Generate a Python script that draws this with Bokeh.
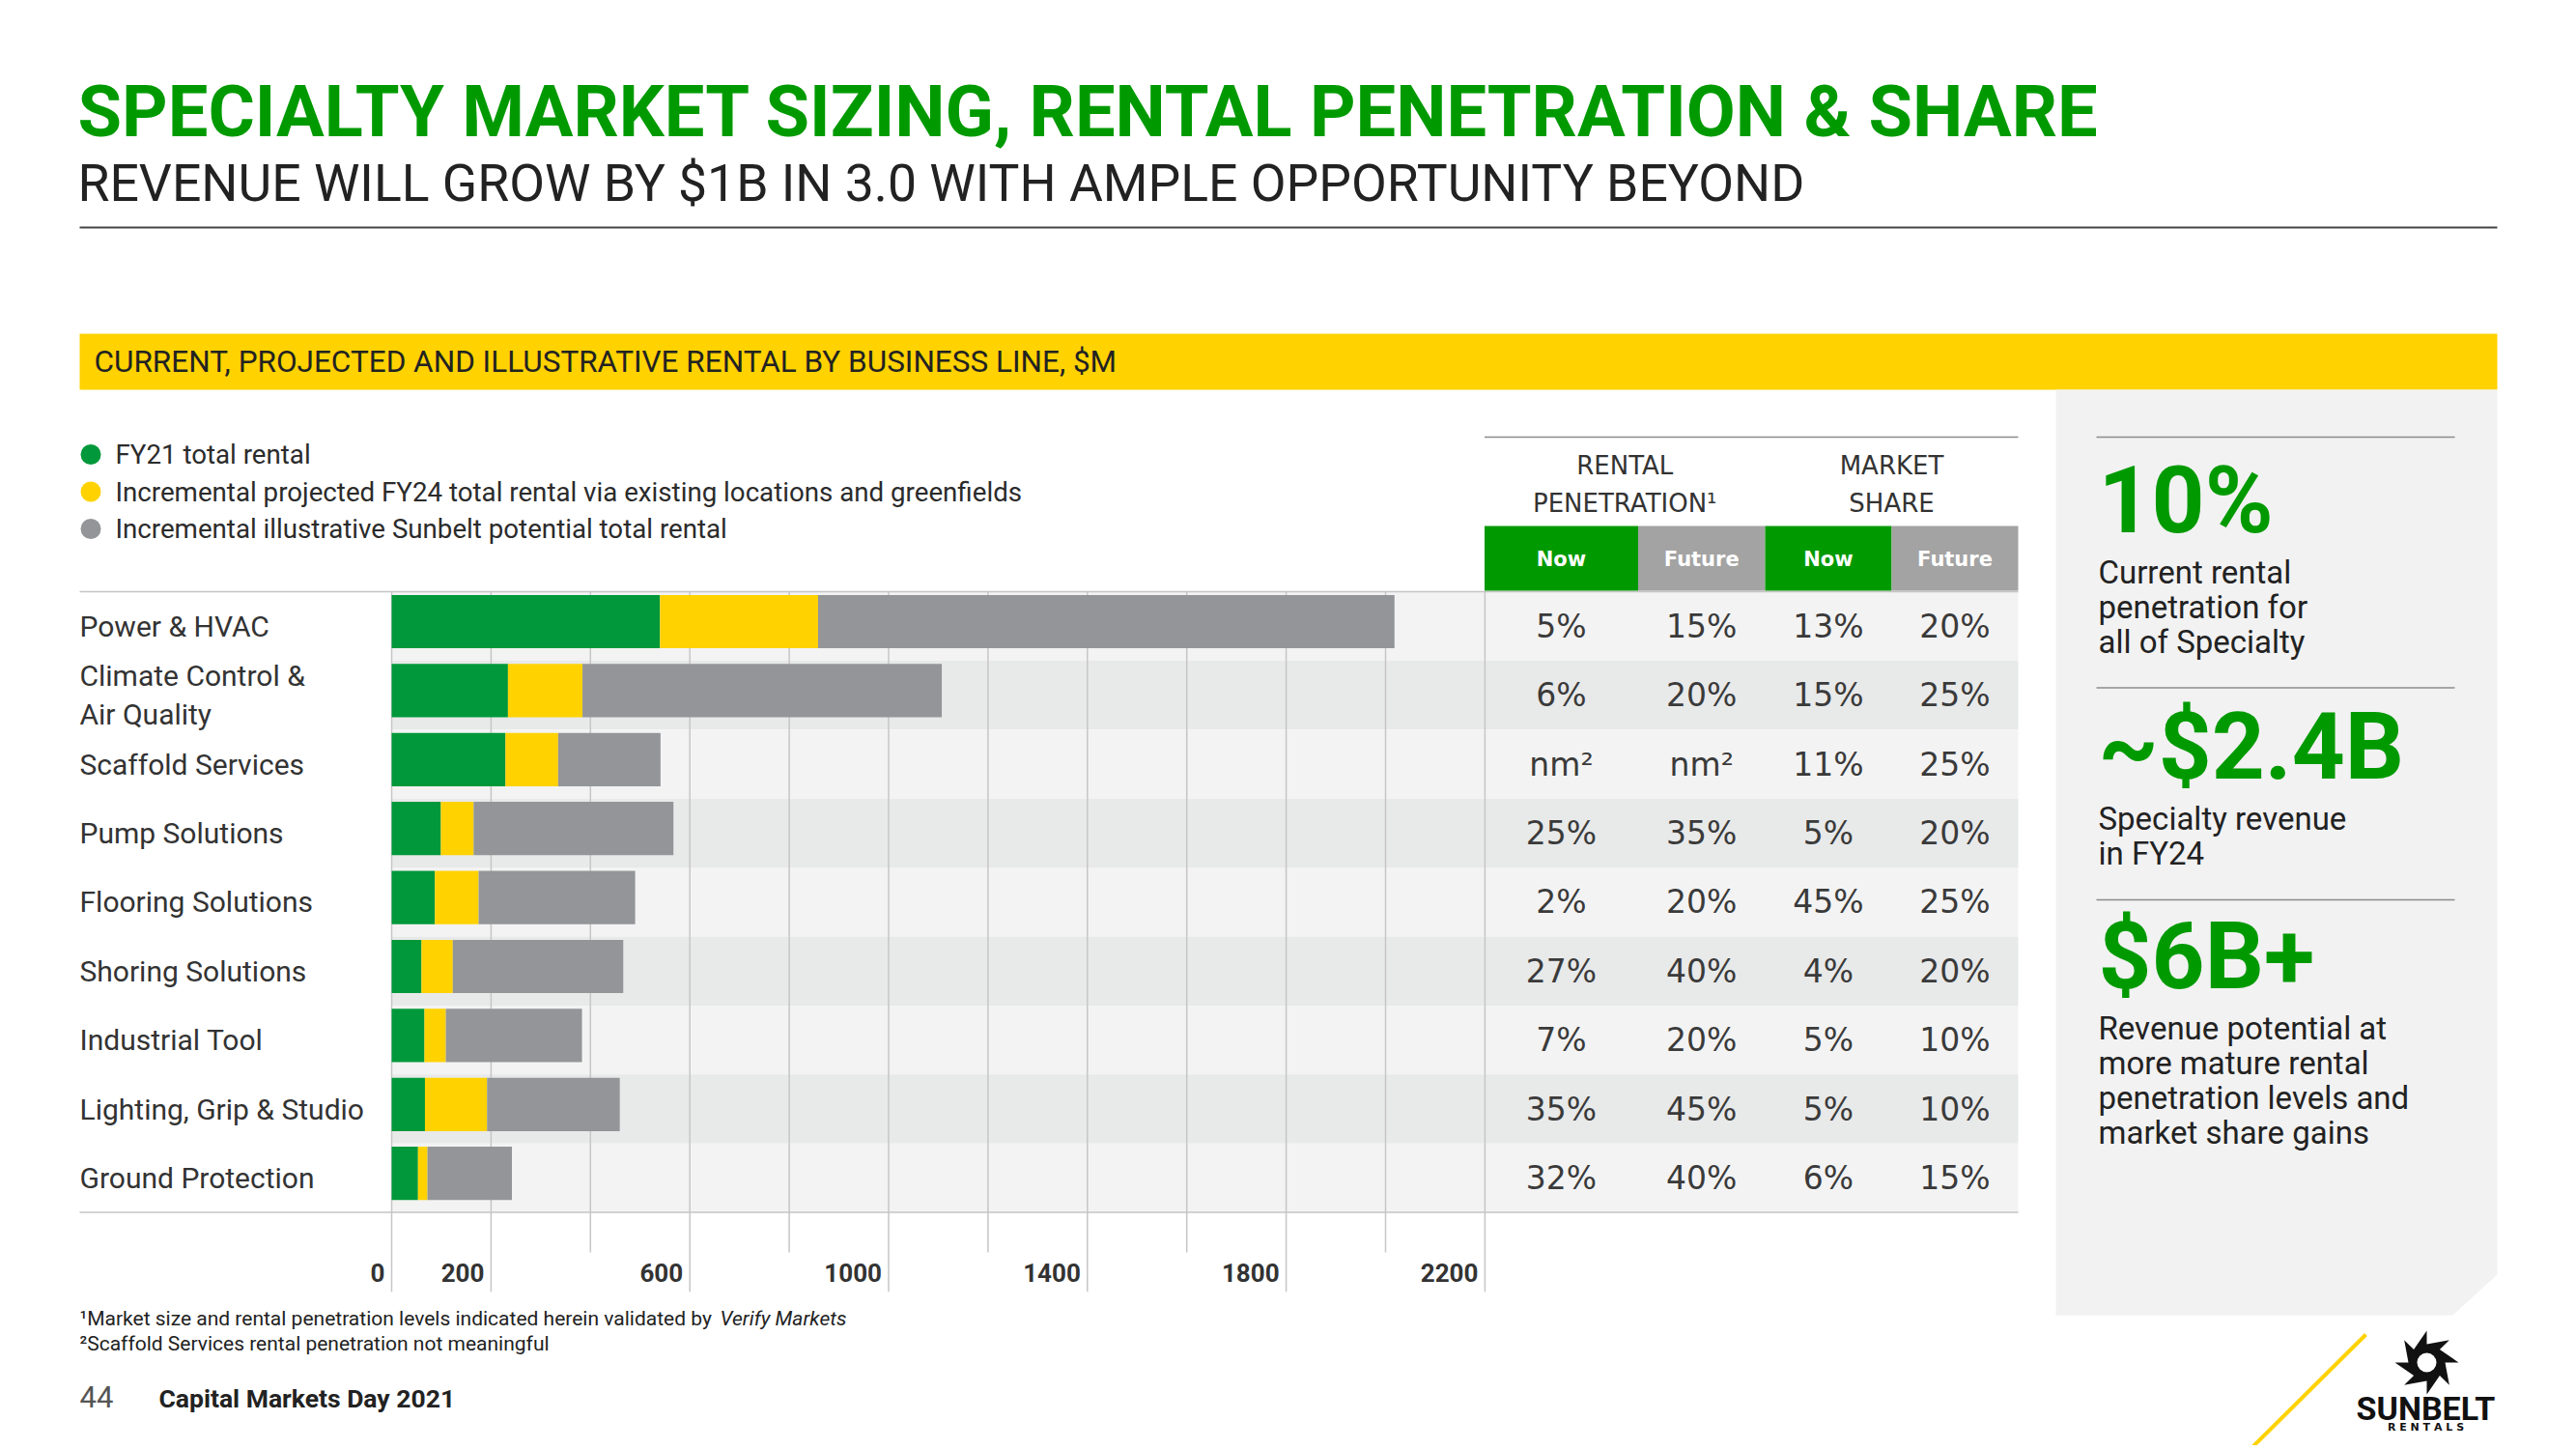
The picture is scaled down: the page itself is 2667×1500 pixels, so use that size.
import numpy as np
from bokeh.plotting import figure
from bokeh.models import Range1d, ColumnDataSource
from bokeh.core.properties import value
from bokeh.transform import dodge
from bokeh.embed import file_html
from bokeh.resources import INLINE

# ---------------- data ----------------
categories = ["Power & HVAC", "Climate Control & Air Quality", "Scaffold Services",
              "Pump Solutions", "Flooring Solutions", "Shoring Solutions",
              "Industrial Tool", "Lighting, Grip & Studio", "Ground Protection"]
category_labels = ["Power & HVAC", "Climate Control &\nAir Quality", "Scaffold Services",
                   "Pump Solutions", "Flooring Solutions", "Shoring Solutions",
                   "Industrial Tool", "Lighting, Grip & Studio", "Ground Protection"]
fy21_rental = [540, 234, 229, 99, 87, 60, 66, 67, 53]
fy24_incremental = [318, 150, 106, 66, 88, 63, 43, 125, 19]
potential_incremental = [1160, 723, 206, 402, 315, 343, 274, 267, 170]
series_names = ["FY21 total rental",
                "Incremental projected FY24 total rental via existing locations and greenfields",
                "Incremental illustrative Sunbelt potential total rental"]
grid_ticks = [0, 200, 400, 600, 800, 1000, 1200, 1400, 1600, 1800, 2000, 2200]
tick_labels = [0, 200, 600, 1000, 1400, 1800, 2200]
table_columns = ["Now", "Future", "Now", "Future"]
table_groups = [["RENTAL", "PENETRATION\u00b9"], ["MARKET", "SHARE"]]
rp_now = ["5%", "6%", "nm\u00b2", "25%", "2%", "27%", "7%", "35%", "32%"]
rp_future = ["15%", "20%", "nm\u00b2", "35%", "20%", "40%", "20%", "45%", "40%"]
ms_now = ["13%", "15%", "11%", "5%", "45%", "4%", "5%", "5%", "6%"]
ms_future = ["20%", "25%", "25%", "20%", "25%", "20%", "10%", "10%", "15%"]
stats = ["10%", "~$2.4B", "$6B+"]
stat_notes = [["Current rental", "penetration for", "all of Specialty"],
              ["Specialty revenue", "in FY24"],
              ["Revenue potential at", "more mature rental", "penetration levels and", "market share gains"]]
title = "SPECIALTY MARKET SIZING, RENTAL PENETRATION & SHARE"
subtitle = "REVENUE WILL GROW BY $1B IN 3.0 WITH AMPLE OPPORTUNITY BEYOND"
banner = "CURRENT, PROJECTED AND ILLUSTRATIVE RENTAL BY BUSINESS LINE, $M"
footnotes = ["\u00b9Market size and rental penetration levels indicated herein validated by ",
             "\u00b2Scaffold Services rental penetration not meaningful"]
footnote_italic = "Verify Markets"
page_number = "44"
footer = "Capital Markets Day 2021"

# ---------------- styles ----------------
GREEN_T = "#009A00"
GREEN_B = "#00983A"
YELLOW = "#FFD200"
GRAY_B = "#939598"
GRAY_H = "#A3A3A3"
BAND = ["#F3F3F3", "#E8E9E9"]
PANEL = "#F2F2F2"
DARK = "#2B2B2B"
FONT = "Roboto"

W, H = 2664, 1496
X0, K = 405.0, 102.9 / 200.0      # pixel of value 0, pixels per unit
Y0, P = 647.7, 71.4               # pixel of first row centre, row pitch

p = figure(width=W, height=H, output_backend="svg", toolbar_location=None,
           x_range=Range1d(0, W), y_range=Range1d(H, 0),
           x_axis_location=None, y_axis_location=None, min_border=0)
p.grid.visible = False
p.outline_line_color = None
p.background_fill_color = "white"
p.border_fill_color = "white"
p.extra_x_ranges = {"val": Range1d((0 - X0) / K, (W - X0) / K)}
p.extra_y_ranges = {"row": Range1d((H - Y0) / P, (0 - Y0) / P)}


def txt(x, y, s, size, font=FONT, style="normal", color=DARK, align="left",
        baseline="middle", **kw):
    s = s if isinstance(s, list) else [s]
    n = len(s)
    x = list(x) if isinstance(x, (list, tuple, np.ndarray)) else [x] * n
    y = list(y) if isinstance(y, (list, tuple, np.ndarray)) else [y] * n
    src = ColumnDataSource(dict(x=x, y=y, t=s))
    return p.text(x="x", y="y", text="t", source=src, text_font=value(font),
                  text_font_size=f"{size}px", text_font_style=style, text_color=color,
                  text_align=align, text_baseline=baseline, **kw)


def mid(baseline, size):
    return baseline - 0.345 * size


# ---------------- header ----------------
txt(80, mid(141, 74), title, 74, FONT, "bold", GREEN_T)
txt(80, mid(207, 53.5), subtitle, 53.5, FONT, "normal", "#222222")
p.segment(x0=[82], x1=[2585], y0=[235], y1=[235], line_color="#444444", line_width=2)
p.quad(left=[82], right=[2585], top=[345], bottom=[403], fill_color=YELLOW, line_color=None)
txt(97, 374, banner, 31.5, FONT, "normal", "#222222")

# ---------------- right panel ----------------
p.patch(x=[2128, 2585, 2585, 2539, 2128], y=[403, 403, 1319, 1361, 1361],
        fill_color=PANEL, line_color=None)
p.segment(x0=[2170] * 3, x1=[2541] * 3, y0=[452, 711.5, 931], y1=[452, 711.5, 931],
          line_color="#8C8C8C", line_width=1.5)
stat_base = [551, 806, 1023]
for i, s in enumerate(stats):
    txt(2172, mid(stat_base[i], 96), s, 96, FONT, "bold", GREEN_T)
    lines = stat_notes[i]
    txt(2172, [mid(stat_base[i] + 52 + 36 * k, 33) for k in range(len(lines))], lines, 33,
        FONT, "normal", "#222222")

# ---------------- legend ----------------
leg_colors = [GREEN_B, YELLOW, GRAY_B]
leg_y = [470, 508.5, 547]
p.scatter(x=[93.5] * 3, y=leg_y, size=21, fill_color=leg_colors, line_color=None)
txt(119, leg_y, series_names, 27.7, FONT, "normal", DARK)

# ---------------- chart bands / grid ----------------
rows = list(range(len(categories)))
p.hbar(y=rows, left=405, right=2089, height=1.0,
       fill_color=[BAND[r % 2] for r in rows], line_color=None, y_range_name="row")
long_ticks = [t in tick_labels for t in grid_ticks]
p.segment(x0=grid_ticks, x1=grid_ticks, y0=[-0.5] * len(grid_ticks),
          y1=[9.65 if l else 9.08 for l in long_ticks],
          line_color="#C6C6C6", line_width=1.5, x_range_name="val", y_range_name="row")
p.segment(x0=[82, 82], x1=[2089, 2089], y0=[-0.5, 8.5], y1=[-0.5, 8.5],
          line_color="#C4C4C4", line_width=1.5, y_range_name="row")

# ---------------- bars ----------------
c1 = np.array(fy21_rental, dtype=float)
c2 = c1 + np.array(fy24_incremental, dtype=float)
c3 = c2 + np.array(potential_incremental, dtype=float)
bsrc = ColumnDataSource(dict(row=rows, c1=c1, c2=c2, c3=c3))
ydodge = dodge("row", -0.066)
p.hbar(y=ydodge, left=0, right="c1", height=0.773, source=bsrc,
       fill_color=GREEN_B, line_color=None, x_range_name="val", y_range_name="row")
p.hbar(y=ydodge, left="c1", right="c2", height=0.773, source=bsrc,
       fill_color=YELLOW, line_color=None, x_range_name="val", y_range_name="row")
p.hbar(y=ydodge, left="c2", right="c3", height=0.773, source=bsrc,
       fill_color=GRAY_B, line_color=None, x_range_name="val", y_range_name="row")

# category labels
txt(82, rows, category_labels, 30, FONT, "normal", "#333333",
    text_line_height=1.15, y_range_name="row")
# tick labels
txt(tick_labels, 9.37, [str(t) for t in tick_labels], 26, FONT, "bold", "#333333",
    align="right", x_offset=-7, x_range_name="val", y_range_name="row")

# ---------------- table ----------------
col_edges = [1536.5, 1695.5, 1827, 1958, 2089]
col_centers = [(col_edges[i] + col_edges[i + 1]) / 2 for i in range(4)]
p.segment(x0=[1536.5], x1=[2089], y0=[452], y1=[452], line_color="#8C8C8C", line_width=1.5)
p.quad(left=col_edges[:4], right=col_edges[1:], top=[544] * 4, bottom=[611] * 4,
       fill_color=[GREEN_T, GRAY_H, GREEN_T, GRAY_H], line_color=None)
txt(col_centers, 578, table_columns, 21, "DejaVu Sans", "bold", "white", align="center")
grp_x = [(col_edges[0] + col_edges[2]) / 2, (col_edges[2] + col_edges[4]) / 2]
for g, lines in enumerate(table_groups):
    txt(grp_x[g], [481, 520], lines, 26, "DejaVu Sans", "normal", "#333333", align="center")
for j, col in enumerate([rp_now, rp_future, ms_now, ms_future]):
    txt(col_centers[j], rows, col, 33, "DejaVu Sans", "normal", "#3A3A3A",
        align="center", y_range_name="row")

# ---------------- footnotes / footer ----------------
txt(82, [mid(1372, 21), mid(1398, 21)], footnotes, 21, FONT, "normal", "#222222")
txt(745, mid(1372, 21), footnote_italic, 21, FONT, "italic", "#222222")
txt(82, mid(1456, 31), page_number, 31, FONT, "normal", "#555555")
txt(164, mid(1456, 26.5), footer, 26.5, FONT, "bold", "#222222")

# ---------------- logo ----------------
p.segment(x0=[2329], x1=[2449], y0=[1500], y1=[1381], line_color=YELLOW, line_width=4)
cx, cy, R, r = 2512, 1410, 33, 19
gx, gy = [], []
for i in range(8):
    a = np.deg2rad(i * 45 - 90)
    gx += [cx + R * np.cos(a), cx + r * np.cos(a)]
    gy += [cy + R * np.sin(a), cy + r * np.sin(a)]
p.patch(x=gx, y=gy, fill_color="#111111", line_color=None)
p.scatter(x=[cx], y=[cy], size=20, fill_color="white", line_color=None)
txt(2511, 1457, "SUNBELT", 34, FONT, "bold", "#111111", align="center")
txt(2511, 1477, "R E N T A L S", 11, "DejaVu Sans", "bold", "#111111", align="center")

open("out.html", "w").write(file_html(p, INLINE))
